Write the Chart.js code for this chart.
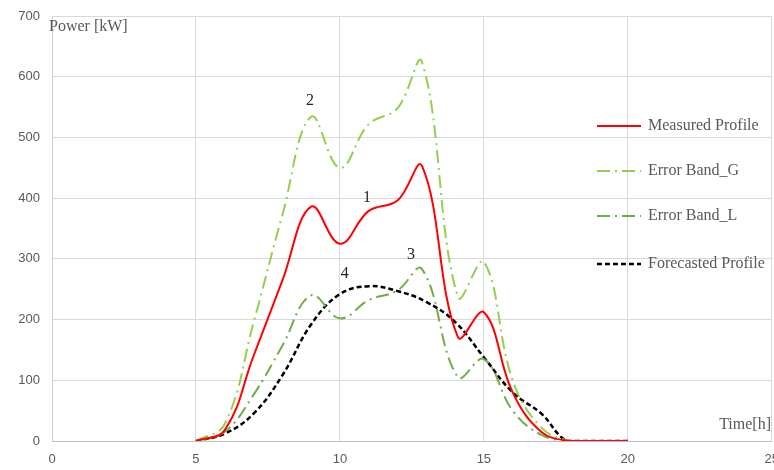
<!DOCTYPE html>
<html>
<head>
<meta charset="utf-8">
<script src="https://cdn.jsdelivr.net/npm/chart.js@4.4.1/dist/chart.umd.min.js"></script>
<style>
  html, body { margin: 0; padding: 0; background: #fff; overflow: hidden; }
  #wrap { width: 791px; height: 470px; position: relative; }
</style>
</head>
<body>
<div id="wrap"><canvas id="powerChart"></canvas></div>
<script>
// hours of the day (measured / error bands)
const hours = [5, 6, 7, 8, 9, 10, 11, 12, 12.85, 14.1, 15, 16, 17, 18, 19, 20];
const measured = [0, 18, 140, 264, 386, 325, 379, 396, 453, 171, 212, 80, 15, 0, 0, 0];
const bandG = [0, 28, 195, 372, 534, 450, 522, 548, 624, 237, 295, 100, 22, 0, 0, 0];
const bandL = [0, 15, 76, 157, 240, 202, 232, 248, 283, 105, 135, 50, 10, 0, 0, 0];

// forecast has its own hourly points
const forecastHours = [5, 6, 7, 8, 9, 10, 11, 12, 13, 14, 15, 16, 17, 17.9, 19, 20];
const forecast = [0, 12, 45, 108, 192, 242, 255, 247, 229, 196, 138, 80, 45, 0, 0, 0];

const xTicks = [0, 5, 10, 15, 20, 25];
const yTicks = [0, 100, 200, 300, 400, 500, 600, 700];

// numbered markers on the plot
const markerText = ["1", "2", "3", "4"];
const markerX = [10.94, 8.96, 12.47, 10.17];
const markerY = [400, 560, 306, 276];

const grey = "#595959";
const serif = "'Liberation Serif', 'DejaVu Serif', serif";

function toPoints(xs, ys) {
    return xs.map((x, i) => ({ x: x, y: ys[i] }));
}

const dashDot = [13, 5, 2, 5];

const datasets = [
    {
        label: "Measured Profile",
        data: toPoints(hours, measured),
        borderColor: "#ff0000",
        borderWidth: 2,
        borderDash: []
    },
    {
        label: "Error Band_G",
        data: toPoints(hours, bandG),
        borderColor: "#92d050",
        borderWidth: 2,
        borderDash: dashDot
    },
    {
        label: "Error Band_L",
        data: toPoints(hours, bandL),
        borderColor: "#70ad47",
        borderWidth: 2,
        borderDash: dashDot
    },
    {
        label: "Forecasted Profile",
        data: toPoints(forecastHours, forecast),
        borderColor: "#000000",
        borderWidth: 2.5,
        borderDash: [5, 3]
    }
];

// legend + axis titles + markers drawn inside the plot
const overlayPlugin = {
    id: "overlay",
    afterDatasetsDraw(chart) {
        const ctx = chart.ctx;
        const area = chart.chartArea;
        const xs = chart.scales.x;
        const ys = chart.scales.y;
        ctx.save();

        ctx.fillStyle = grey;
        ctx.font = "16px " + serif;
        ctx.textBaseline = "alphabetic";
        ctx.textAlign = "left";
        ctx.fillText("Power [kW]", area.left - 3, 31);
        ctx.textAlign = "right";
        ctx.fillText("Time[h]", 771, 429);

        ctx.fillStyle = "#262626";
        ctx.textAlign = "center";
        ctx.textBaseline = "middle";
        ctx.font = "16px " + serif;
        markerText.forEach((t, i) => {
            ctx.fillText(t, xs.getPixelForValue(markerX[i]), ys.getPixelForValue(markerY[i]));
        });

        // legend
        const legendY = [126, 171, 216, 264];
        ctx.textAlign = "left";
        ctx.font = "16px " + serif;
        chart.data.datasets.forEach((ds, i) => {
            const y = legendY[i];
            ctx.beginPath();
            ctx.strokeStyle = ds.borderColor;
            ctx.lineWidth = ds.borderWidth;
            ctx.setLineDash(ds.borderDash);
            ctx.moveTo(597, y);
            ctx.lineTo(641, y);
            ctx.stroke();
            ctx.setLineDash([]);
            ctx.fillStyle = grey;
            ctx.fillText(ds.label, 648, y);
        });
        ctx.restore();
    }
};

new Chart(document.getElementById("powerChart"), {
    type: "line",
    data: { datasets: datasets },
    options: {
        responsive: true,
        maintainAspectRatio: false,
        animation: false,
        layout: { padding: { top: 0, right: 0, left: 0, bottom: 0 } },
        elements: {
            point: { radius: 0 },
            line: { tension: 0.4, fill: false }
        },
        plugins: {
            legend: { display: false },
            tooltip: { enabled: false }
        },
        scales: {
            x: {
                type: "linear",
                min: 0,
                max: 25,
                afterBuildTicks: (scale) => { scale.ticks = xTicks.map(v => ({ value: v })); },
                afterFit: (scale) => { scale.height = 29; },
                grid: { color: "#d9d9d9", drawTicks: false },
                border: { color: "#bfbfbf" },
                ticks: { color: grey, padding: 12, font: { size: 13, lineHeight: 1, family: "'Liberation Sans', sans-serif" } }
            },
            y: {
                min: 0,
                max: 700,
                afterBuildTicks: (scale) => { scale.ticks = yTicks.map(v => ({ value: v })); },
                afterFit: (scale) => { scale.width = 52; scale.paddingTop = 16; },
                grid: { color: "#d9d9d9", drawTicks: false },
                border: { color: "#d0d0d0" },
                ticks: { color: grey, padding: 12, font: { size: 13, lineHeight: 1, family: "'Liberation Sans', sans-serif" } }
            }
        }
    },
    plugins: [overlayPlugin]
});
</script>
</body>
</html>
